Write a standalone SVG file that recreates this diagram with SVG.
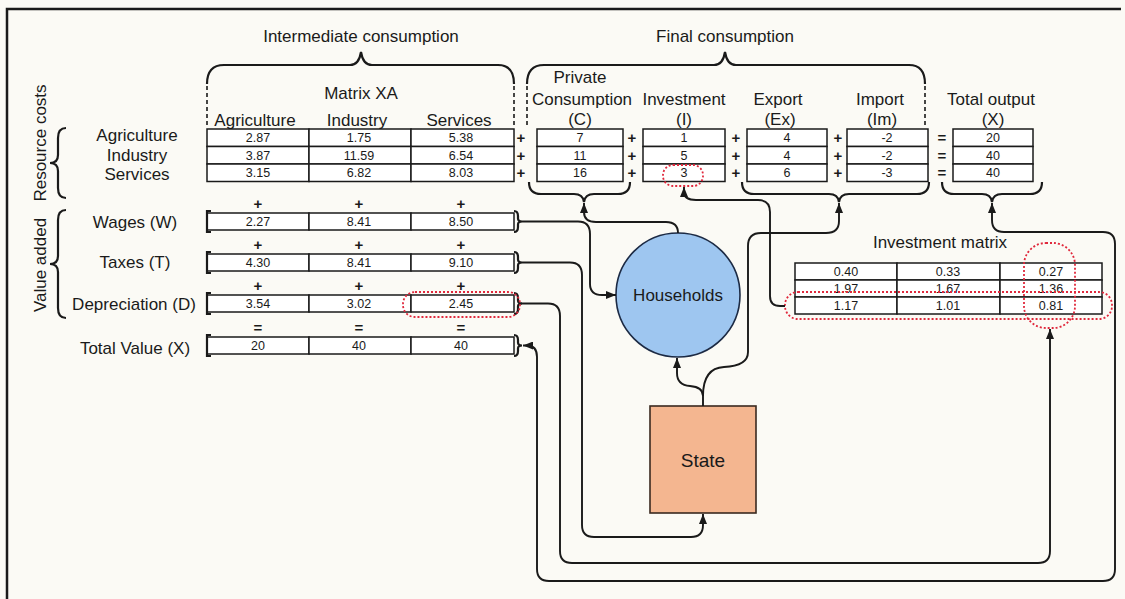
<svg xmlns="http://www.w3.org/2000/svg" width="1125" height="599" viewBox="0 0 1125 599">
  <style>
    .t { font-family: "Liberation Sans", Arial, sans-serif; fill: #1a1a1a; }
    .lbl { font-size: 17px; text-anchor: middle; }
    .val { font-size: 12.5px; text-anchor: middle; }
    .cell { fill: #ffffff; stroke: #1a1a1a; stroke-width: 1.5; }
    .wire { fill: none; stroke: #1a1a1a; stroke-width: 1.9; }
    .brace { fill: none; stroke: #1a1a1a; stroke-width: 2.2; }
    .edge { fill: none; stroke: #1a1a1a; stroke-width: 2.2; }
    .dash { fill: none; stroke: #1a1a1a; stroke-width: 1.6; stroke-dasharray: 4 3; }
    .red { fill: none; stroke: #e0283c; stroke-width: 1.8; stroke-dasharray: 2 2; }
    .op { font-family: "Liberation Sans", Arial, sans-serif; font-size: 15px; font-weight: bold; text-anchor: middle; fill: #1a1a1a; }
  </style>
  <defs>
    <marker id="ah" viewBox="0 0 10 8" refX="10" refY="4" markerWidth="10" markerHeight="8" markerUnits="userSpaceOnUse" orient="auto-start-reverse">
      <path d="M0,0 L10,4 L0,8 z" fill="#1a1a1a"/>
    </marker>
  </defs>

  <!-- page -->
  <rect x="0" y="0" width="1125" height="599" fill="#fbfaf5"/>
  <path d="M7 599 V9 H1121" fill="none" stroke="#1a1a1a" stroke-width="2.5"/>

  <!-- headings with top braces -->
  <g id="intermediate-consumption">
    <text class="t lbl" x="361" y="42">Intermediate consumption</text>
    <path class="brace" d="M207 84 Q207 65 224 65 H350 Q359 65 361 52 Q363 65 372 65 H498 Q514 65 514 84"/>
    <path class="dash" d="M207 86 V128 M514 86 V128"/>
  </g>
  <g id="final-consumption">
    <text class="t lbl" x="725" y="42">Final consumption</text>
    <path class="brace" d="M527 84 Q527 65 544 65 H714 Q723 65 725 52 Q727 65 736 65 H909 Q925 65 925 84"/>
    <path class="dash" d="M527 86 V128 M925 86 V128"/>
  </g>

  <!-- side labels -->
  <g id="resource-costs">
    <text class="t lbl" transform="translate(46 143) rotate(-90)">Resource costs</text>
    <path class="brace" d="M66 128 Q58 128 58 138 V155 Q58 163 50 163 Q58 163 58 171 V188 Q58 198 66 198"/>
    <text class="t lbl" x="137" y="141">Agriculture</text>
    <text class="t lbl" x="137" y="161">Industry</text>
    <text class="t lbl" x="137" y="180">Services</text>
  </g>
  <g id="value-added">
    <text class="t lbl" transform="translate(46 265) rotate(-90)">Value added</text>
    <path class="brace" d="M66 210 Q58 210 58 220 V256 Q58 264 50 264 Q58 264 58 272 V308 Q58 318 66 318"/>
  </g>

  <!-- Matrix XA -->
  <g id="matrix-xa">
    <text class="t lbl" x="361" y="99">Matrix XA</text>
    <text class="t lbl" x="255" y="126">Agriculture</text>
    <text class="t lbl" x="357" y="126">Industry</text>
    <text class="t lbl" x="459" y="126">Services</text>
    <rect class="cell" x="207" y="129" width="102" height="17.5"/>
    <rect class="cell" x="309" y="129" width="102" height="17.5"/>
    <rect class="cell" x="411" y="129" width="103" height="17.5"/>
    <rect class="cell" x="207" y="146.5" width="102" height="17.5"/>
    <rect class="cell" x="309" y="146.5" width="102" height="17.5"/>
    <rect class="cell" x="411" y="146.5" width="103" height="17.5"/>
    <rect class="cell" x="207" y="164" width="102" height="17.5"/>
    <rect class="cell" x="309" y="164" width="102" height="17.5"/>
    <rect class="cell" x="411" y="164" width="103" height="17.5"/>
    <text class="t val" x="258" y="142">2.87</text>
    <text class="t val" x="359" y="142">1.75</text>
    <text class="t val" x="461" y="142">5.38</text>
    <text class="t val" x="258" y="159.5">3.87</text>
    <text class="t val" x="359" y="159.5">11.59</text>
    <text class="t val" x="461" y="159.5">6.54</text>
    <text class="t val" x="258" y="177">3.15</text>
    <text class="t val" x="359" y="177">6.82</text>
    <text class="t val" x="461" y="177">8.03</text>
  </g>

  <!-- operators between the tables -->
  <g id="operators">
    <text class="op" x="521" y="143">+</text>
    <text class="op" x="521" y="160.5">+</text>
    <text class="op" x="521" y="178">+</text>
    <text class="op" x="632" y="143">+</text>
    <text class="op" x="632" y="160.5">+</text>
    <text class="op" x="632" y="178">+</text>
    <text class="op" x="736" y="143">+</text>
    <text class="op" x="736" y="160.5">+</text>
    <text class="op" x="736" y="178">+</text>
    <text class="op" x="838" y="143">+</text>
    <text class="op" x="838" y="160.5">+</text>
    <text class="op" x="838" y="178">+</text>
    <text class="op" x="942" y="143">=</text>
    <text class="op" x="942" y="160.5">=</text>
    <text class="op" x="942" y="178">=</text>
    <!-- value added column operators -->
    <text class="op" x="258" y="209">+</text>
    <text class="op" x="359" y="209">+</text>
    <text class="op" x="461" y="209">+</text>
    <text class="op" x="258" y="250">+</text>
    <text class="op" x="359" y="250">+</text>
    <text class="op" x="461" y="250">+</text>
    <text class="op" x="258" y="291">+</text>
    <text class="op" x="359" y="291">+</text>
    <text class="op" x="461" y="291">+</text>
    <text class="op" x="258" y="333">=</text>
    <text class="op" x="359" y="333">=</text>
    <text class="op" x="461" y="333">=</text>
  </g>

  <!-- final consumption columns -->
  <g id="private-consumption">
    <text class="t lbl" x="580" y="83">Private</text>
    <text class="t lbl" x="582" y="105">Consumption</text>
    <text class="t lbl" x="580" y="125">(C)</text>
    <rect class="cell" x="537" y="129" width="86" height="17.5"/>
    <rect class="cell" x="537" y="146.5" width="86" height="17.5"/>
    <rect class="cell" x="537" y="164" width="86" height="17.5"/>
    <text class="t val" x="580" y="142">7</text>
    <text class="t val" x="580" y="159.5">11</text>
    <text class="t val" x="580" y="177">16</text>
    <path class="brace" d="M529 182 Q529 194 541 194 H574 Q583 194 584 202 Q585 194 594 194 H618 Q630 194 630 182"/>
  </g>
  <g id="investment">
    <text class="t lbl" x="684" y="105">Investment</text>
    <text class="t lbl" x="684" y="125">(I)</text>
    <rect class="cell" x="643" y="129" width="82" height="17.5"/>
    <rect class="cell" x="643" y="146.5" width="82" height="17.5"/>
    <rect class="cell" x="643" y="164" width="82" height="17.5"/>
    <text class="t val" x="684" y="142">1</text>
    <text class="t val" x="684" y="159.5">5</text>
    <text class="t val" x="684" y="177">3</text>
    <rect class="red" x="663" y="165" width="40" height="21" rx="10"/>
  </g>
  <g id="export">
    <text class="t lbl" x="778" y="105">Export</text>
    <text class="t lbl" x="780" y="125">(Ex)</text>
    <rect class="cell" x="747" y="129" width="80" height="17.5"/>
    <rect class="cell" x="747" y="146.5" width="80" height="17.5"/>
    <rect class="cell" x="747" y="164" width="80" height="17.5"/>
    <text class="t val" x="787" y="142">4</text>
    <text class="t val" x="787" y="159.5">4</text>
    <text class="t val" x="787" y="177">6</text>
  </g>
  <g id="import">
    <text class="t lbl" x="880" y="105">Import</text>
    <text class="t lbl" x="882" y="125">(Im)</text>
    <rect class="cell" x="847" y="129" width="81" height="17.5"/>
    <rect class="cell" x="847" y="146.5" width="81" height="17.5"/>
    <rect class="cell" x="847" y="164" width="81" height="17.5"/>
    <text class="t val" x="887" y="142">-2</text>
    <text class="t val" x="887" y="159.5">-2</text>
    <text class="t val" x="887" y="177">-3</text>
    <path class="brace" d="M742 182 Q742 194 754 194 H829 Q838 194 839 202 Q840 194 849 194 H917 Q929 194 929 182"/>
  </g>
  <g id="total-output">
    <text class="t lbl" x="991" y="105">Total output</text>
    <text class="t lbl" x="993" y="125">(X)</text>
    <rect class="cell" x="953" y="129" width="80" height="17.5"/>
    <rect class="cell" x="953" y="146.5" width="80" height="17.5"/>
    <rect class="cell" x="953" y="164" width="80" height="17.5"/>
    <text class="t val" x="993" y="142">20</text>
    <text class="t val" x="993" y="159.5">40</text>
    <text class="t val" x="993" y="177">40</text>
    <path class="brace" d="M942 182 Q942 194 954 194 H982 Q991 194 992 202 Q993 194 1002 194 H1030 Q1042 194 1042 182"/>
  </g>

  <!-- value added rows -->
  <g id="wages">
    <text class="t lbl" x="135" y="228">Wages (W)</text>
    <rect class="cell" x="207" y="213" width="102" height="17"/>
    <rect class="cell" x="309" y="213" width="102" height="17"/>
    <rect class="cell" x="411" y="213" width="103" height="17"/>
    <path class="edge" d="M211 211 H207 V232 H211"/>
    <path class="edge" d="M514 211 Q518 211 518 216 V218.5 Q518 221.5 522 221.5 Q518 221.5 518 224.5 V227 Q518 232 514 232"/>
    <text class="t val" x="258" y="226">2.27</text>
    <text class="t val" x="359" y="226">8.41</text>
    <text class="t val" x="461" y="226">8.50</text>
  </g>
  <g id="taxes">
    <text class="t lbl" x="135" y="268">Taxes (T)</text>
    <rect class="cell" x="207" y="254" width="102" height="17"/>
    <rect class="cell" x="309" y="254" width="102" height="17"/>
    <rect class="cell" x="411" y="254" width="103" height="17"/>
    <path class="edge" d="M211 252 H207 V273 H211"/>
    <path class="edge" d="M514 252 Q518 252 518 257 V259.5 Q518 262.5 522 262.5 Q518 262.5 518 265.5 V268 Q518 273 514 273"/>
    <text class="t val" x="258" y="267">4.30</text>
    <text class="t val" x="359" y="267">8.41</text>
    <text class="t val" x="461" y="267">9.10</text>
  </g>
  <g id="depreciation">
    <text class="t lbl" x="134" y="310">Depreciation (D)</text>
    <rect class="cell" x="207" y="295" width="102" height="17"/>
    <rect class="cell" x="309" y="295" width="102" height="17"/>
    <rect class="cell" x="411" y="295" width="103" height="17"/>
    <path class="edge" d="M211 293 H207 V314 H211"/>
    <path class="edge" d="M514 293 Q518 293 518 298 V300.5 Q518 303.5 522 303.5 Q518 303.5 518 306.5 V309 Q518 314 514 314"/>
    <text class="t val" x="258" y="308">3.54</text>
    <text class="t val" x="359" y="308">3.02</text>
    <text class="t val" x="461" y="308">2.45</text>
    <rect class="red" x="403" y="292" width="117" height="25" rx="12"/>
  </g>
  <g id="total-value">
    <text class="t lbl" x="135" y="354">Total Value (X)</text>
    <rect class="cell" x="207" y="337" width="102" height="17"/>
    <rect class="cell" x="309" y="337" width="102" height="17"/>
    <rect class="cell" x="411" y="337" width="103" height="17"/>
    <path class="edge" d="M211 335 H207 V356 H211"/>
    <path class="edge" d="M514 335 Q518 335 518 340 V342.5 Q518 345.5 522 345.5 Q518 345.5 518 348.5 V351 Q518 356 514 356"/>
    <text class="t val" x="258" y="350">20</text>
    <text class="t val" x="359" y="350">40</text>
    <text class="t val" x="461" y="350">40</text>
  </g>

  <!-- investment matrix -->
  <g id="investment-matrix">
    <text class="t lbl" x="940" y="248">Investment matrix</text>
    <rect class="cell" x="795" y="263" width="102" height="17"/>
    <rect class="cell" x="897" y="263" width="103" height="17"/>
    <rect class="cell" x="1000" y="263" width="102" height="17"/>
    <rect class="cell" x="795" y="280" width="102" height="17"/>
    <rect class="cell" x="897" y="280" width="103" height="17"/>
    <rect class="cell" x="1000" y="280" width="102" height="17"/>
    <rect class="cell" x="795" y="297" width="102" height="17"/>
    <rect class="cell" x="897" y="297" width="103" height="17"/>
    <rect class="cell" x="1000" y="297" width="102" height="17"/>
    <text class="t val" x="846" y="276">0.40</text>
    <text class="t val" x="948" y="276">0.33</text>
    <text class="t val" x="1051" y="276">0.27</text>
    <text class="t val" x="846" y="293">1.97</text>
    <text class="t val" x="948" y="293">1.67</text>
    <text class="t val" x="1051" y="293">1.36</text>
    <text class="t val" x="846" y="310">1.17</text>
    <text class="t val" x="948" y="310">1.01</text>
    <text class="t val" x="1051" y="310">0.81</text>
    <rect class="red" x="785" y="292" width="327" height="27" rx="13"/>
    <rect class="red" x="1024" y="243" width="51" height="85" rx="22"/>
  </g>

  <!-- actors -->
  <g id="households">
    <circle cx="678" cy="295" r="62" fill="#9ec6f0" stroke="#1c2a44" stroke-width="1.6"/>
    <text class="t" x="678" y="301" font-size="17" text-anchor="middle" fill="#14213d">Households</text>
  </g>
  <g id="state">
    <rect x="650" y="406" width="106" height="107" fill="#f4b690" stroke="#3a2a20" stroke-width="1.6"/>
    <text class="t" x="703" y="467" font-size="19" text-anchor="middle" fill="#2a1a12">State</text>
  </g>

  <!-- connectors -->
  <g id="connectors">
    <!-- wages to households -->
    <path class="wire" d="M522 221.5 H578 Q590 221.5 590 234 V284 Q590 295 602 295 H616" marker-end="url(#ah)"/>
    <!-- households to private consumption -->
    <path class="wire" d="M678 233 Q678 222 666 222 H596 Q584 222 584 212 V203" marker-end="url(#ah)"/>
    <!-- taxes to state -->
    <path class="wire" d="M522 262.5 H570 Q582 262.5 582 275 V525 Q582 537 594 537 H691 Q703 537 703 525 V514" marker-end="url(#ah)"/>
    <!-- depreciation to investment matrix column -->
    <path class="wire" d="M521 303.5 H548 Q560 303.5 560 316 V551 Q560 563 572 563 H1038 Q1050 563 1050 551 V329" marker-end="url(#ah)"/>
    <!-- total value and total output -->
    <path class="wire" d="M992 203 V220 Q992 232 1004 232 H1103 Q1115 232 1115 244 V569 Q1115 581 1103 581 H549 Q537 581 537 569 V357 Q537 345.5 527 345.5 H523" marker-start="url(#ah)" marker-end="url(#ah)"/>
    <!-- state to households -->
    <path class="wire" d="M703 406 V396 Q703 387 690 386 Q677 385 677 373 V358" marker-end="url(#ah)"/>
    <!-- state to export / import -->
    <path class="wire" d="M703 396 Q703 368 724 367 Q748 366 748 352 V246 Q748 233 761 233 H826 Q839 233 839 221 V203" marker-end="url(#ah)"/>
    <!-- investment matrix row to investment -->
    <path class="wire" d="M785 306 H780 Q770 306 770 296 V212 Q770 200 758 200 H696 Q684 200 684 192 V187" marker-end="url(#ah)"/>
  </g>
</svg>
